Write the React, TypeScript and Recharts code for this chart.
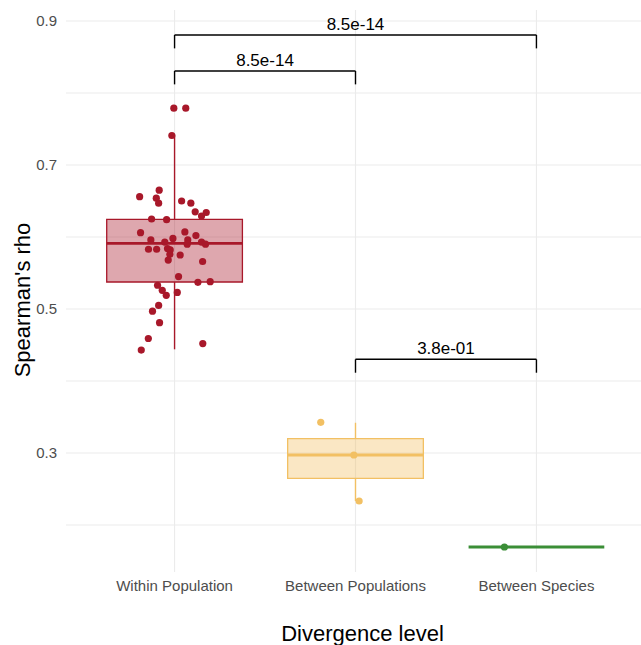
import React from 'react';
import {
  ScatterChart,
  Scatter,
  XAxis,
  YAxis,
  CartesianGrid,
  ReferenceArea,
  ReferenceLine,
  ReferenceDot,
} from 'recharts';

const categories = ['Within Population', 'Between Populations', 'Between Species'];
const colors = ['#A8182A', '#F2C063', '#3B8E37'];

const withinPoints = [
  { x: 0.996, y: 0.779 }, { x: 1.062, y: 0.779 }, { x: 0.985, y: 0.741 },
  { x: 0.915, y: 0.665 }, { x: 0.807, y: 0.656 }, { x: 0.899, y: 0.654 },
  { x: 0.912, y: 0.647 }, { x: 1.039, y: 0.650 }, { x: 1.090, y: 0.647 },
  { x: 1.114, y: 0.635 }, { x: 1.175, y: 0.634 }, { x: 1.149, y: 0.629 },
  { x: 0.873, y: 0.625 }, { x: 0.956, y: 0.624 }, { x: 0.812, y: 0.606 },
  { x: 1.057, y: 0.607 }, { x: 1.118, y: 0.602 }, { x: 0.869, y: 0.596 },
  { x: 0.946, y: 0.593 }, { x: 0.991, y: 0.598 }, { x: 1.073, y: 0.596 },
  { x: 1.070, y: 0.590 }, { x: 1.149, y: 0.593 }, { x: 1.171, y: 0.590 },
  { x: 0.856, y: 0.583 }, { x: 0.901, y: 0.583 }, { x: 0.961, y: 0.584 },
  { x: 0.976, y: 0.582 }, { x: 0.974, y: 0.576 }, { x: 1.031, y: 0.575 },
  { x: 0.965, y: 0.568 }, { x: 1.155, y: 0.566 }, { x: 1.022, y: 0.545 },
  { x: 1.129, y: 0.537 }, { x: 1.197, y: 0.538 }, { x: 0.906, y: 0.533 },
  { x: 0.932, y: 0.526 }, { x: 0.954, y: 0.519 }, { x: 1.015, y: 0.523 },
  { x: 0.912, y: 0.505 }, { x: 0.878, y: 0.497 }, { x: 0.917, y: 0.481 },
  { x: 0.855, y: 0.459 }, { x: 0.816, y: 0.443 }, { x: 1.156, y: 0.452 },
];
const betweenPopPoints = [
  { x: 1.808, y: 0.3426 }, { x: 1.991, y: 0.2972 }, { x: 2.020, y: 0.2333 },
];
const betweenSpeciesPoints = [{ x: 2.823, y: 0.1694 }];
const groupPoints = [withinPoints, betweenPopPoints, betweenSpeciesPoints];

const boxQ1 = [0.5375, 0.2648, 0.1694];
const boxMedian = [0.5912, 0.2972, 0.1694];
const boxQ3 = [0.6246, 0.3199, 0.1694];
const whiskerLow = [0.444, 0.2333, 0.1694];
const whiskerHigh = [0.741, 0.342, 0.1694];

const sigLabels = ['8.5e-14', '8.5e-14', '3.8e-01'];
const sigFrom = [1, 1, 2];
const sigTo = [3, 2, 3];
const sigY = [0.8806, 0.8306, 0.4301];
const sigTip = [0.862, 0.812, 0.4115];

const yTicks = [0.2, 0.3, 0.4, 0.5, 0.6, 0.7, 0.8, 0.9];
const yLabeled = [0.3, 0.5, 0.7, 0.9];
const xTicks = [1, 2, 3];

const FONT = 'Liberation Sans, Arial, Helvetica, sans-serif';
const HALF = 0.375;

export default function App() {
  return (
    <div
      style={{
        position: 'absolute',
        left: 0,
        top: 0,
        width: 641,
        height: 645,
        overflow: 'hidden',
        background: '#fff',
        fontFamily: FONT,
      }}
    >
      <ScatterChart
        width={645}
        height={645}
        margin={{ top: 10, right: 0, bottom: 0, left: 0 }}
        style={{ fontFamily: FONT }}
      >
        <CartesianGrid
          stroke="#EBEBEB"
          strokeWidth={1.1}
          horizontalValues={yTicks}
          verticalValues={xTicks}
        />
        <XAxis
          type="number"
          dataKey="x"
          domain={[0.4, 3.6]}
          ticks={xTicks}
          tickFormatter={(v: number) => categories[Math.round(v) - 1] ?? ''}
          axisLine={false}
          tickLine={false}
          tickSize={6}
          tickMargin={2}
          height={73}
          tick={{ fill: '#4D4D4D', fontSize: 15, fontFamily: FONT }}
          allowDataOverflow
          label={{
            content: (props: any) => {
              const vb = props.viewBox || {};
              return (
                <text
                  x={vb.x + vb.width / 2 + 7}
                  y={vb.y + vb.height - 4}
                  textAnchor="middle"
                  fill="#000"
                  fontSize={22}
                  fontFamily={FONT}
                >
                  Divergence level
                </text>
              );
            },
          }}
        />
        <YAxis
          type="number"
          dataKey="y"
          domain={[0.1347, 0.9153]}
          ticks={yTicks}
          tickFormatter={(v: number) => (yLabeled.some((t) => Math.abs(t - v) < 1e-6) ? v.toFixed(1) : '')}
          axisLine={false}
          tickLine={false}
          tickSize={6}
          tickMargin={3}
          width={66}
          tick={{ fill: '#4D4D4D', fontSize: 15, fontFamily: FONT }}
          allowDataOverflow
          label={{
            content: (props: any) => {
              const vb = props.viewBox || {};
              const cx = 30;
              const cy = vb.y + vb.height / 2 + 9;
              return (
                <text
                  x={cx}
                  y={cy}
                  transform={`rotate(-90 ${cx} ${cy})`}
                  textAnchor="middle"
                  fill="#000"
                  fontSize={22}
                  fontFamily={FONT}
                >
                  Spearman's rho
                </text>
              );
            },
          }}
        />

        {categories.map((c, i) => (
          <ReferenceArea
            key={'box' + c}
            x1={i + 1 - HALF}
            x2={i + 1 + HALF}
            y1={boxQ1[i]}
            y2={boxQ3[i]}
            fill={colors[i]}
            fillOpacity={0.38}
            stroke={colors[i]}
            strokeWidth={1.3}
            strokeOpacity={1}
            ifOverflow="visible"
          />
        ))}
        {categories.map((c, i) => (
          <ReferenceLine
            key={'wh' + c}
            segment={[
              { x: i + 1, y: boxQ3[i] },
              { x: i + 1, y: whiskerHigh[i] },
            ]}
            stroke={colors[i]}
            strokeWidth={1.4}
            ifOverflow="visible"
          />
        ))}
        {categories.map((c, i) => (
          <ReferenceLine
            key={'wl' + c}
            segment={[
              { x: i + 1, y: boxQ1[i] },
              { x: i + 1, y: whiskerLow[i] },
            ]}
            stroke={colors[i]}
            strokeWidth={1.4}
            ifOverflow="visible"
          />
        ))}
        {categories.map((c, i) => (
          <ReferenceLine
            key={'md' + c}
            segment={[
              { x: i + 1 - HALF, y: boxMedian[i] },
              { x: i + 1 + HALF, y: boxMedian[i] },
            ]}
            stroke={colors[i]}
            strokeWidth={2.8}
            ifOverflow="visible"
          />
        ))}

        {categories.map((c, i) => (
          <Scatter
            key={'pts' + c}
            name={c}
            data={groupPoints[i]}
            fill={colors[i]}
            isAnimationActive={false}
            shape={(p: any) => <circle cx={p.cx} cy={p.cy} r={3.6} fill={colors[i]} />}
          />
        ))}

        {sigLabels.map((lab, i) => (
          <ReferenceLine
            key={'sh' + i}
            segment={[
              { x: sigFrom[i], y: sigY[i] },
              { x: sigTo[i], y: sigY[i] },
            ]}
            stroke="#000"
            strokeWidth={1.4}
            ifOverflow="visible"
          />
        ))}
        {sigLabels.map((lab, i) => (
          <ReferenceLine
            key={'sl' + i}
            segment={[
              { x: sigFrom[i], y: sigY[i] },
              { x: sigFrom[i], y: sigTip[i] },
            ]}
            stroke="#000"
            strokeWidth={1.4}
            ifOverflow="visible"
          />
        ))}
        {sigLabels.map((lab, i) => (
          <ReferenceLine
            key={'sr' + i}
            segment={[
              { x: sigTo[i], y: sigY[i] },
              { x: sigTo[i], y: sigTip[i] },
            ]}
            stroke="#000"
            strokeWidth={1.4}
            ifOverflow="visible"
          />
        ))}
        {sigLabels.map((lab, i) => (
          <ReferenceDot
            key={'st' + i}
            x={(sigFrom[i] + sigTo[i]) / 2}
            y={sigY[i]}
            r={0}
            fill="none"
            stroke="none"
            ifOverflow="visible"
            label={{
              value: lab,
              position: 'top',
              offset: 5,
              fill: '#000',
              fontSize: 17,
              fontFamily: FONT,
            }}
          />
        ))}
      </ScatterChart>
    </div>
  );
}
